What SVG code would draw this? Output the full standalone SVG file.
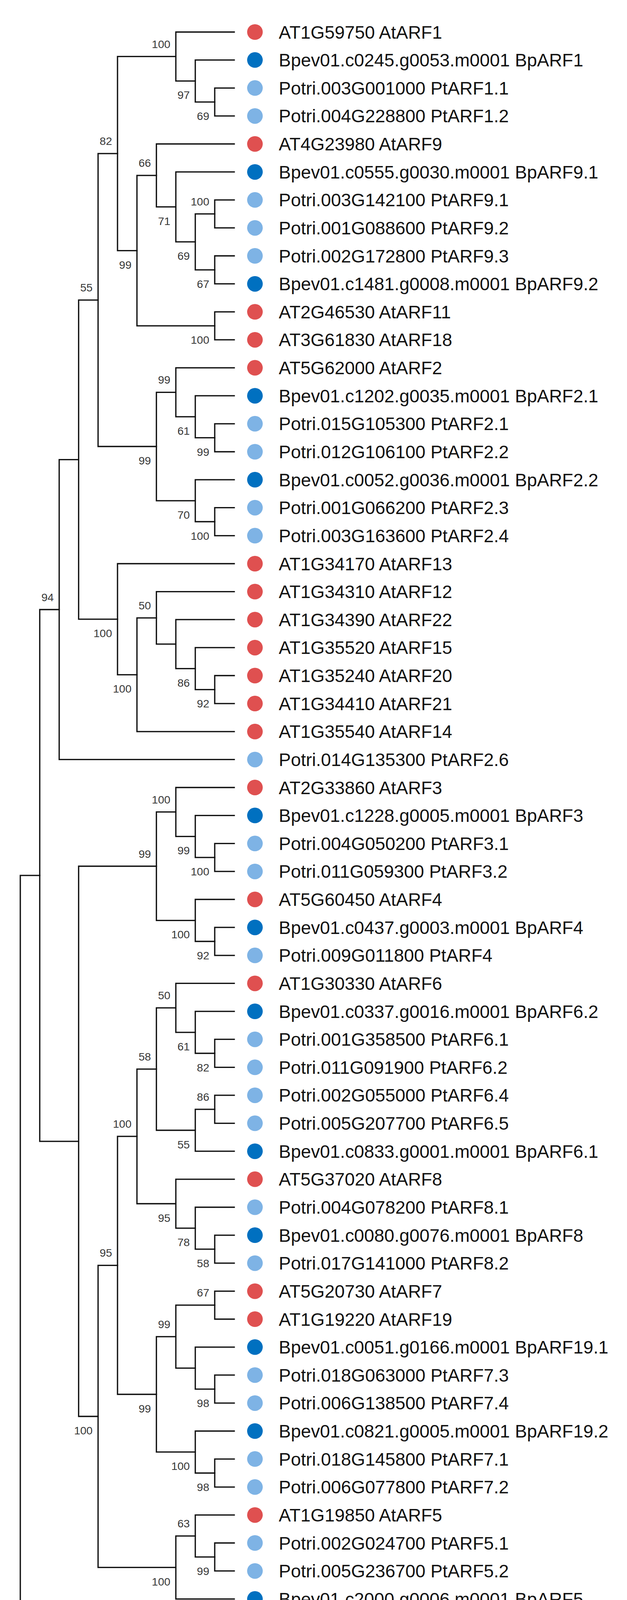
<svg xmlns="http://www.w3.org/2000/svg" width="1606" height="5231" viewBox="0 0 1606 5231">
<style>
.br{fill:none;stroke:#111;stroke-width:3.3;stroke-linecap:square;stroke-linejoin:miter}
.nm{font-family:"Liberation Sans",Arial,sans-serif;font-size:46.3px;fill:#111}
.bs{font-family:"Liberation Sans",Arial,sans-serif;font-size:28.5px;fill:#383838;text-anchor:end}
.at{fill:#DF5050}
.bp{fill:#0070C0}
.pt{fill:#7EB3E5}
</style>
<rect width="1606" height="5231" fill="#fff"/>
<g id="connectors">
<path class="br" d="M600 225.3H550V296.9H600"/>
<path class="br" d="M600 153.6H500.2V261.1H550"/>
<path class="br" d="M600 82H450.4V207.4H500.2"/>
<path class="br" d="M600 511.8H550V583.4H600"/>
<path class="br" d="M600 655H550V726.7H600"/>
<path class="br" d="M550 547.6H500.2V690.9H550"/>
<path class="br" d="M600 440.2H450.4V619.2H500.2"/>
<path class="br" d="M600 368.5H400.6V529.7H450.4"/>
<path class="br" d="M600 798.3H550V869.9H600"/>
<path class="br" d="M400.6 449.1H350.8V834.1H550"/>
<path class="br" d="M450.4 144.7H301V641.6H350.8"/>
<path class="br" d="M600 1084.8H550V1156.5H600"/>
<path class="br" d="M600 1013.2H500.2V1120.7H550"/>
<path class="br" d="M600 941.6H450.4V1066.9H500.2"/>
<path class="br" d="M600 1299.7H550V1371.3H600"/>
<path class="br" d="M600 1228.1H500.2V1335.5H550"/>
<path class="br" d="M450.4 1004.3H400.6V1281.8H500.2"/>
<path class="br" d="M301 393.2H251.2V1143H400.6"/>
<path class="br" d="M600 1729.5H550V1801.1H600"/>
<path class="br" d="M600 1657.9H500.2V1765.3H550"/>
<path class="br" d="M600 1586.2H450.4V1711.6H500.2"/>
<path class="br" d="M600 1514.6H400.6V1648.9H450.4"/>
<path class="br" d="M400.6 1581.8H350.8V1872.8H600"/>
<path class="br" d="M600 1443H301V1727.3H350.8"/>
<path class="br" d="M251.2 768.1H201.4V1585.2H301"/>
<path class="br" d="M201.4 1176.6H151.6V1944.4H600"/>
<path class="br" d="M600 2159.3H550V2230.9H600"/>
<path class="br" d="M600 2087.6H500.2V2195.1H550"/>
<path class="br" d="M600 2016H450.4V2141.4H500.2"/>
<path class="br" d="M600 2374.2H550V2445.8H600"/>
<path class="br" d="M600 2302.5H500.2V2410H550"/>
<path class="br" d="M450.4 2078.7H400.6V2356.3H500.2"/>
<path class="br" d="M600 2660.7H550V2732.3H600"/>
<path class="br" d="M600 2589.1H500.2V2696.5H550"/>
<path class="br" d="M600 2517.4H450.4V2642.8H500.2"/>
<path class="br" d="M600 2803.9H550V2875.6H600"/>
<path class="br" d="M550 2839.8H500.2V2947.2H600"/>
<path class="br" d="M450.4 2580.1H400.6V2893.5H500.2"/>
<path class="br" d="M600 3162.1H550V3233.7H600"/>
<path class="br" d="M600 3090.5H500.2V3197.9H550"/>
<path class="br" d="M600 3018.8H450.4V3144.2H500.2"/>
<path class="br" d="M400.6 2736.8H350.8V3081.5H450.4"/>
<path class="br" d="M600 3305.4H550V3377H600"/>
<path class="br" d="M600 3520.2H550V3591.9H600"/>
<path class="br" d="M600 3448.6H500.2V3556.1H550"/>
<path class="br" d="M550 3341.2H450.4V3502.3H500.2"/>
<path class="br" d="M600 3735.1H550V3806.8H600"/>
<path class="br" d="M600 3663.5H500.2V3771H550"/>
<path class="br" d="M450.4 3421.8H400.6V3717.2H500.2"/>
<path class="br" d="M350.8 2909.2H301V3569.5H400.6"/>
<path class="br" d="M600 3950H550V4021.7H600"/>
<path class="br" d="M600 3878.4H500.2V3985.9H550"/>
<path class="br" d="M500.2 3932.1H450.4V4093.3H600"/>
<path class="br" d="M301 3239.3H251.2V4012.7H450.4"/>
<path class="br" d="M400.6 2217.5H201.4V3626H251.2"/>
<path class="br" d="M151.6 1560.5H101.8V2921.8H201.4"/>
<path class="br" d="M600 4308.2H550V4379.8H600"/>
<path class="br" d="M600 4236.5H500.2V4344H550"/>
<path class="br" d="M600 4164.9H450.4V4290.3H500.2"/>
<path class="br" d="M600 4594.7H550V4666.3H600"/>
<path class="br" d="M600 4523.1H500.2V4630.5H550"/>
<path class="br" d="M600 4451.4H450.4V4576.8H500.2"/>
<path class="br" d="M600 4809.6H550V4881.2H600"/>
<path class="br" d="M600 4738H500.2V4845.4H550"/>
<path class="br" d="M450.4 4514.1H400.6V4791.7H500.2"/>
<path class="br" d="M450.4 4227.6H350.8V4652.9H400.6"/>
<path class="br" d="M600 5096.1H550V5167.7H600"/>
<path class="br" d="M600 5024.5H500.2V5131.9H550"/>
<path class="br" d="M600 4952.8H450.4V5078.2H500.2"/>
<path class="br" d="M350.8 4440.3H301V5015.5H450.4"/>
<path class="br" d="M101.8 2241.1H52V4727.9H301"/>
</g>
<g id="support-values">
<text class="bs" x="436.4" y="122.7">100</text>
<text class="bs" x="486.2" y="253.4">97</text>
<text class="bs" x="536" y="307.1">69</text>
<text class="bs" x="287" y="371.2">82</text>
<text class="bs" x="386.6" y="427.1">66</text>
<text class="bs" x="536" y="525.6">100</text>
<text class="bs" x="436.4" y="575.7">71</text>
<text class="bs" x="486.2" y="665.2">69</text>
<text class="bs" x="336.8" y="687.6">99</text>
<text class="bs" x="536" y="736.9">67</text>
<text class="bs" x="237.2" y="746.1">55</text>
<text class="bs" x="536" y="880.1">100</text>
<text class="bs" x="436.4" y="982.3">99</text>
<text class="bs" x="486.2" y="1112.9">61</text>
<text class="bs" x="536" y="1166.7">99</text>
<text class="bs" x="386.6" y="1189">99</text>
<text class="bs" x="486.2" y="1327.8">70</text>
<text class="bs" x="536" y="1381.5">100</text>
<text class="bs" x="137.6" y="1538.5">94</text>
<text class="bs" x="386.6" y="1559.8">50</text>
<text class="bs" x="287" y="1631.2">100</text>
<text class="bs" x="486.2" y="1757.6">86</text>
<text class="bs" x="336.8" y="1773.3">100</text>
<text class="bs" x="536" y="1811.3">92</text>
<text class="bs" x="436.4" y="2056.7">100</text>
<text class="bs" x="486.2" y="2187.4">99</text>
<text class="bs" x="536" y="2241.1">100</text>
<text class="bs" x="386.6" y="2195.5">99</text>
<text class="bs" x="486.2" y="2402.3">100</text>
<text class="bs" x="536" y="2456">92</text>
<text class="bs" x="436.4" y="2558.1">50</text>
<text class="bs" x="486.2" y="2688.8">61</text>
<text class="bs" x="536" y="2742.5">82</text>
<text class="bs" x="386.6" y="2714.8">58</text>
<text class="bs" x="536" y="2817.8">86</text>
<text class="bs" x="336.8" y="2887.2">100</text>
<text class="bs" x="486.2" y="2939.5">55</text>
<text class="bs" x="436.4" y="3127.5">95</text>
<text class="bs" x="486.2" y="3190.2">78</text>
<text class="bs" x="536" y="3243.9">58</text>
<text class="bs" x="287" y="3217.3">95</text>
<text class="bs" x="536" y="3319.2">67</text>
<text class="bs" x="436.4" y="3399.8">99</text>
<text class="bs" x="536" y="3602.1">98</text>
<text class="bs" x="386.6" y="3615.5">99</text>
<text class="bs" x="237.2" y="3672">100</text>
<text class="bs" x="486.2" y="3763.2">100</text>
<text class="bs" x="536" y="3817">98</text>
<text class="bs" x="486.2" y="3910.1">63</text>
<text class="bs" x="536" y="4031.9">99</text>
<text class="bs" x="436.4" y="4058.7">100</text>
<text class="bs" x="486.2" y="4336.3">51</text>
<text class="bs" x="536" y="4390">100</text>
<text class="bs" x="336.8" y="4418.3">100</text>
<text class="bs" x="486.2" y="4622.8">52</text>
<text class="bs" x="536" y="4676.5">100</text>
<text class="bs" x="287" y="4773.9">100</text>
<text class="bs" x="486.2" y="4837.7">77</text>
<text class="bs" x="536" y="4891.4">100</text>
<text class="bs" x="436.4" y="5061.5">100</text>
<text class="bs" x="486.2" y="5124.2">93</text>
<text class="bs" x="536" y="5177.9">100</text>
</g>
<g id="leaf-01"><circle class="at" cx="653" cy="82" r="20"/><text class="nm" x="714" y="98.5">AT1G59750 AtARF1</text></g>
<g id="leaf-02"><circle class="bp" cx="653" cy="153.6" r="20"/><text class="nm" x="714" y="170.1">Bpev01.c0245.g0053.m0001 BpARF1</text></g>
<g id="leaf-03"><circle class="pt" cx="653" cy="225.3" r="20"/><text class="nm" x="714" y="241.8">Potri.003G001000 PtARF1.1</text></g>
<g id="leaf-04"><circle class="pt" cx="653" cy="296.9" r="20"/><text class="nm" x="714" y="313.4">Potri.004G228800 PtARF1.2</text></g>
<g id="leaf-05"><circle class="at" cx="653" cy="368.5" r="20"/><text class="nm" x="714" y="385">AT4G23980 AtARF9</text></g>
<g id="leaf-06"><circle class="bp" cx="653" cy="440.2" r="20"/><text class="nm" x="714" y="456.7">Bpev01.c0555.g0030.m0001 BpARF9.1</text></g>
<g id="leaf-07"><circle class="pt" cx="653" cy="511.8" r="20"/><text class="nm" x="714" y="528.3">Potri.003G142100 PtARF9.1</text></g>
<g id="leaf-08"><circle class="pt" cx="653" cy="583.4" r="20"/><text class="nm" x="714" y="599.9">Potri.001G088600 PtARF9.2</text></g>
<g id="leaf-09"><circle class="pt" cx="653" cy="655" r="20"/><text class="nm" x="714" y="671.5">Potri.002G172800 PtARF9.3</text></g>
<g id="leaf-10"><circle class="bp" cx="653" cy="726.7" r="20"/><text class="nm" x="714" y="743.2">Bpev01.c1481.g0008.m0001 BpARF9.2</text></g>
<g id="leaf-11"><circle class="at" cx="653" cy="798.3" r="20"/><text class="nm" x="714" y="814.8">AT2G46530 AtARF11</text></g>
<g id="leaf-12"><circle class="at" cx="653" cy="869.9" r="20"/><text class="nm" x="714" y="886.4">AT3G61830 AtARF18</text></g>
<g id="leaf-13"><circle class="at" cx="653" cy="941.6" r="20"/><text class="nm" x="714" y="958.1">AT5G62000 AtARF2</text></g>
<g id="leaf-14"><circle class="bp" cx="653" cy="1013.2" r="20"/><text class="nm" x="714" y="1029.7">Bpev01.c1202.g0035.m0001 BpARF2.1</text></g>
<g id="leaf-15"><circle class="pt" cx="653" cy="1084.8" r="20"/><text class="nm" x="714" y="1101.3">Potri.015G105300 PtARF2.1</text></g>
<g id="leaf-16"><circle class="pt" cx="653" cy="1156.5" r="20"/><text class="nm" x="714" y="1173">Potri.012G106100 PtARF2.2</text></g>
<g id="leaf-17"><circle class="bp" cx="653" cy="1228.1" r="20"/><text class="nm" x="714" y="1244.6">Bpev01.c0052.g0036.m0001 BpARF2.2</text></g>
<g id="leaf-18"><circle class="pt" cx="653" cy="1299.7" r="20"/><text class="nm" x="714" y="1316.2">Potri.001G066200 PtARF2.3</text></g>
<g id="leaf-19"><circle class="pt" cx="653" cy="1371.3" r="20"/><text class="nm" x="714" y="1387.8">Potri.003G163600 PtARF2.4</text></g>
<g id="leaf-20"><circle class="at" cx="653" cy="1443" r="20"/><text class="nm" x="714" y="1459.5">AT1G34170 AtARF13</text></g>
<g id="leaf-21"><circle class="at" cx="653" cy="1514.6" r="20"/><text class="nm" x="714" y="1531.1">AT1G34310 AtARF12</text></g>
<g id="leaf-22"><circle class="at" cx="653" cy="1586.2" r="20"/><text class="nm" x="714" y="1602.7">AT1G34390 AtARF22</text></g>
<g id="leaf-23"><circle class="at" cx="653" cy="1657.9" r="20"/><text class="nm" x="714" y="1674.4">AT1G35520 AtARF15</text></g>
<g id="leaf-24"><circle class="at" cx="653" cy="1729.5" r="20"/><text class="nm" x="714" y="1746">AT1G35240 AtARF20</text></g>
<g id="leaf-25"><circle class="at" cx="653" cy="1801.1" r="20"/><text class="nm" x="714" y="1817.6">AT1G34410 AtARF21</text></g>
<g id="leaf-26"><circle class="at" cx="653" cy="1872.8" r="20"/><text class="nm" x="714" y="1889.3">AT1G35540 AtARF14</text></g>
<g id="leaf-27"><circle class="pt" cx="653" cy="1944.4" r="20"/><text class="nm" x="714" y="1960.9">Potri.014G135300 PtARF2.6</text></g>
<g id="leaf-28"><circle class="at" cx="653" cy="2016" r="20"/><text class="nm" x="714" y="2032.5">AT2G33860 AtARF3</text></g>
<g id="leaf-29"><circle class="bp" cx="653" cy="2087.6" r="20"/><text class="nm" x="714" y="2104.1">Bpev01.c1228.g0005.m0001 BpARF3</text></g>
<g id="leaf-30"><circle class="pt" cx="653" cy="2159.3" r="20"/><text class="nm" x="714" y="2175.8">Potri.004G050200 PtARF3.1</text></g>
<g id="leaf-31"><circle class="pt" cx="653" cy="2230.9" r="20"/><text class="nm" x="714" y="2247.4">Potri.011G059300 PtARF3.2</text></g>
<g id="leaf-32"><circle class="at" cx="653" cy="2302.5" r="20"/><text class="nm" x="714" y="2319">AT5G60450 AtARF4</text></g>
<g id="leaf-33"><circle class="bp" cx="653" cy="2374.2" r="20"/><text class="nm" x="714" y="2390.7">Bpev01.c0437.g0003.m0001 BpARF4</text></g>
<g id="leaf-34"><circle class="pt" cx="653" cy="2445.8" r="20"/><text class="nm" x="714" y="2462.3">Potri.009G011800 PtARF4</text></g>
<g id="leaf-35"><circle class="at" cx="653" cy="2517.4" r="20"/><text class="nm" x="714" y="2533.9">AT1G30330 AtARF6</text></g>
<g id="leaf-36"><circle class="bp" cx="653" cy="2589.1" r="20"/><text class="nm" x="714" y="2605.6">Bpev01.c0337.g0016.m0001 BpARF6.2</text></g>
<g id="leaf-37"><circle class="pt" cx="653" cy="2660.7" r="20"/><text class="nm" x="714" y="2677.2">Potri.001G358500 PtARF6.1</text></g>
<g id="leaf-38"><circle class="pt" cx="653" cy="2732.3" r="20"/><text class="nm" x="714" y="2748.8">Potri.011G091900 PtARF6.2</text></g>
<g id="leaf-39"><circle class="pt" cx="653" cy="2803.9" r="20"/><text class="nm" x="714" y="2820.4">Potri.002G055000 PtARF6.4</text></g>
<g id="leaf-40"><circle class="pt" cx="653" cy="2875.6" r="20"/><text class="nm" x="714" y="2892.1">Potri.005G207700 PtARF6.5</text></g>
<g id="leaf-41"><circle class="bp" cx="653" cy="2947.2" r="20"/><text class="nm" x="714" y="2963.7">Bpev01.c0833.g0001.m0001 BpARF6.1</text></g>
<g id="leaf-42"><circle class="at" cx="653" cy="3018.8" r="20"/><text class="nm" x="714" y="3035.3">AT5G37020 AtARF8</text></g>
<g id="leaf-43"><circle class="pt" cx="653" cy="3090.5" r="20"/><text class="nm" x="714" y="3107">Potri.004G078200 PtARF8.1</text></g>
<g id="leaf-44"><circle class="bp" cx="653" cy="3162.1" r="20"/><text class="nm" x="714" y="3178.6">Bpev01.c0080.g0076.m0001 BpARF8</text></g>
<g id="leaf-45"><circle class="pt" cx="653" cy="3233.7" r="20"/><text class="nm" x="714" y="3250.2">Potri.017G141000 PtARF8.2</text></g>
<g id="leaf-46"><circle class="at" cx="653" cy="3305.4" r="20"/><text class="nm" x="714" y="3321.9">AT5G20730 AtARF7</text></g>
<g id="leaf-47"><circle class="at" cx="653" cy="3377" r="20"/><text class="nm" x="714" y="3393.5">AT1G19220 AtARF19</text></g>
<g id="leaf-48"><circle class="bp" cx="653" cy="3448.6" r="20"/><text class="nm" x="714" y="3465.1">Bpev01.c0051.g0166.m0001 BpARF19.1</text></g>
<g id="leaf-49"><circle class="pt" cx="653" cy="3520.2" r="20"/><text class="nm" x="714" y="3536.7">Potri.018G063000 PtARF7.3</text></g>
<g id="leaf-50"><circle class="pt" cx="653" cy="3591.9" r="20"/><text class="nm" x="714" y="3608.4">Potri.006G138500 PtARF7.4</text></g>
<g id="leaf-51"><circle class="bp" cx="653" cy="3663.5" r="20"/><text class="nm" x="714" y="3680">Bpev01.c0821.g0005.m0001 BpARF19.2</text></g>
<g id="leaf-52"><circle class="pt" cx="653" cy="3735.1" r="20"/><text class="nm" x="714" y="3751.6">Potri.018G145800 PtARF7.1</text></g>
<g id="leaf-53"><circle class="pt" cx="653" cy="3806.8" r="20"/><text class="nm" x="714" y="3823.3">Potri.006G077800 PtARF7.2</text></g>
<g id="leaf-54"><circle class="at" cx="653" cy="3878.4" r="20"/><text class="nm" x="714" y="3894.9">AT1G19850 AtARF5</text></g>
<g id="leaf-55"><circle class="pt" cx="653" cy="3950" r="20"/><text class="nm" x="714" y="3966.5">Potri.002G024700 PtARF5.1</text></g>
<g id="leaf-56"><circle class="pt" cx="653" cy="4021.7" r="20"/><text class="nm" x="714" y="4038.2">Potri.005G236700 PtARF5.2</text></g>
<g id="leaf-57"><circle class="bp" cx="653" cy="4093.3" r="20"/><text class="nm" x="714" y="4109.8">Bpev01.c2000.g0006.m0001 BpARF5</text></g>
<g id="leaf-58"><circle class="at" cx="653" cy="4164.9" r="20"/><text class="nm" x="714" y="4181.4">AT2G28350 AtARF10</text></g>
<g id="leaf-59"><circle class="bp" cx="653" cy="4236.5" r="20"/><text class="nm" x="714" y="4253">Bpev01.c0613.g0016.m0001 BpARF16.3</text></g>
<g id="leaf-60"><circle class="pt" cx="653" cy="4308.2" r="20"/><text class="nm" x="714" y="4324.7">Potri.004G211700 PtARF10.1</text></g>
<g id="leaf-61"><circle class="pt" cx="653" cy="4379.8" r="20"/><text class="nm" x="714" y="4396.3">Potri.009G014800 PtARF10.2</text></g>
<g id="leaf-62"><circle class="at" cx="653" cy="4451.4" r="20"/><text class="nm" x="714" y="4467.9">AT4G30080 AtARF16</text></g>
<g id="leaf-63"><circle class="bp" cx="653" cy="4523.1" r="20"/><text class="nm" x="714" y="4539.6">Bpev01.c0042.g0028.m0001 BpARF16.1</text></g>
<g id="leaf-64"><circle class="pt" cx="653" cy="4594.7" r="20"/><text class="nm" x="714" y="4611.2">Potri.010G223200 PtARF16.1</text></g>
<g id="leaf-65"><circle class="pt" cx="653" cy="4666.3" r="20"/><text class="nm" x="714" y="4682.8">Potri.008G039000 PtARF16.2</text></g>
<g id="leaf-66"><circle class="bp" cx="653" cy="4738" r="20"/><text class="nm" x="714" y="4754.5">Bpev01.c0990.g0010.m0001 BpARF16.2</text></g>
<g id="leaf-67"><circle class="pt" cx="653" cy="4809.6" r="20"/><text class="nm" x="714" y="4826.1">Potri.016G090300 PtARF16.3</text></g>
<g id="leaf-68"><circle class="pt" cx="653" cy="4881.2" r="20"/><text class="nm" x="714" y="4897.7">Potri.006G127500 PtARF16.4</text></g>
<g id="leaf-69"><circle class="at" cx="653" cy="4952.8" r="20"/><text class="nm" x="714" y="4969.3">AT1G77850 AtARF17</text></g>
<g id="leaf-70"><circle class="bp" cx="653" cy="5024.5" r="20"/><text class="nm" x="714" y="5041">Bpev01.c0274.g0022.m0001 BpARF17</text></g>
<g id="leaf-71"><circle class="pt" cx="653" cy="5096.1" r="20"/><text class="nm" x="714" y="5112.6">Potri.002G089900 PtARF17.1</text></g>
<g id="leaf-72"><circle class="pt" cx="653" cy="5167.7" r="20"/><text class="nm" x="714" y="5184.2">Potri.005G171300 PtARF17.2</text></g>
</svg>
